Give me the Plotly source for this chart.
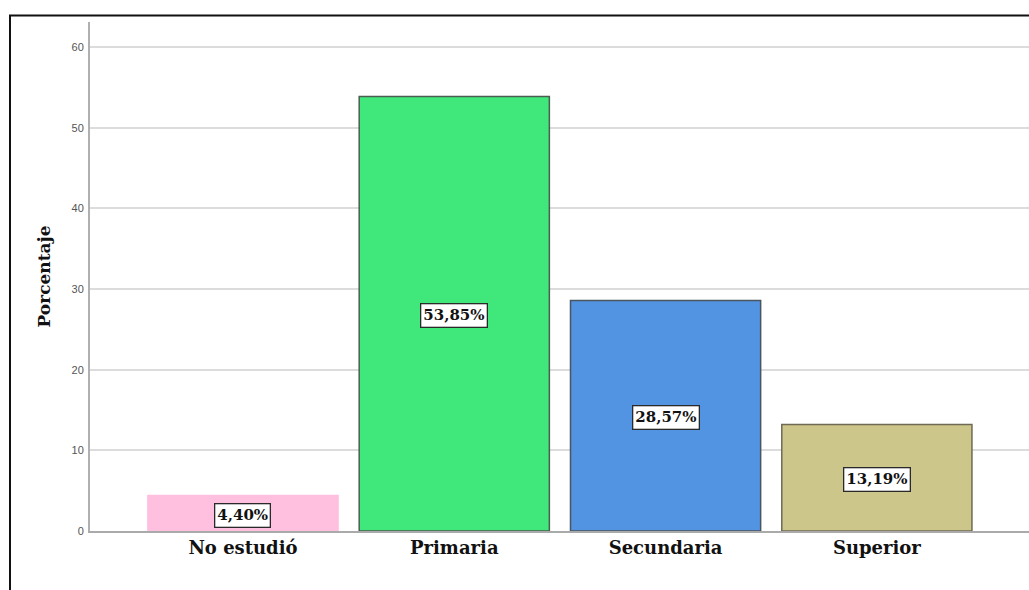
import plotly.graph_objects as go

# Nivel de estudios: porcentaje por categoría
categorias = ["No estudió", "Primaria", "Secundaria", "Superior"]
porcentajes = [4.40, 53.85, 28.57, 13.19]
colores = ["#FFC0E0", "#40E77B", "#5294E2", "#CCC68A"]
bordes = ["#FFC0E0", "#4A5E50", "#4A5560", "#6E6A55"]
ticks_y = [0, 10, 20, 30, 40, 50, 60]

serif = "DejaVu Serif"

fig = go.Figure(
    go.Bar(
        x=categorias,
        y=porcentajes,
        marker=dict(color=colores, line=dict(color=bordes, width=1.5)),
        hoverinfo="skip",
    )
)

# Etiquetas de valor en recuadro blanco, centradas en cada barra
for cat, val in zip(categorias, porcentajes):
    fig.add_annotation(
        x=cat,
        y=val / 2,
        yshift=-2,
        text="<b>" + f"{val:.2f}".replace(".", ",") + "%</b>",
        showarrow=False,
        font=dict(family=serif, size=15, color="#111111"),
        bgcolor="white",
        bordercolor="#2A2A2A",
        borderwidth=1.3,
        borderpad=2,
    )

# Marco exterior
fig.add_shape(
    type="rect",
    xref="paper",
    yref="paper",
    x0=-0.0852,
    x1=1.2,
    y0=-0.3,
    y1=1.0128,
    line=dict(color="#111111", width=2),
    fillcolor="rgba(0,0,0,0)",
    layer="above",
)

fig.update_layout(
    width=1029,
    height=590,
    margin=dict(l=90, r=0, t=22, b=59),
    paper_bgcolor="white",
    plot_bgcolor="white",
    bargap=0.1,
    showlegend=False,
    xaxis=dict(
        range=[-0.724, 3.72],
        showline=True,
        linecolor="#AAAAAA",
        linewidth=1.5,
        showgrid=False,
        ticks="",
        tickfont=dict(family=serif, size=18, color="#111111", weight="bold"),
    ),
    yaxis=dict(
        range=[0, 63.1],
        tickvals=ticks_y,
        showline=True,
        linecolor="#B0B0B0",
        linewidth=2,
        showgrid=True,
        gridcolor="#DCDCDC",
        gridwidth=1.5,
        zeroline=False,
        ticks="",
        ticklabelstandoff=2,
        tickfont=dict(family="Liberation Sans", size=11, color="#555555"),
        title=dict(
            text="Porcentaje",
            font=dict(family=serif, size=17, color="#111111", weight="bold"),
            standoff=17,
        ),
    ),
)

fig.write_html("out.html")
